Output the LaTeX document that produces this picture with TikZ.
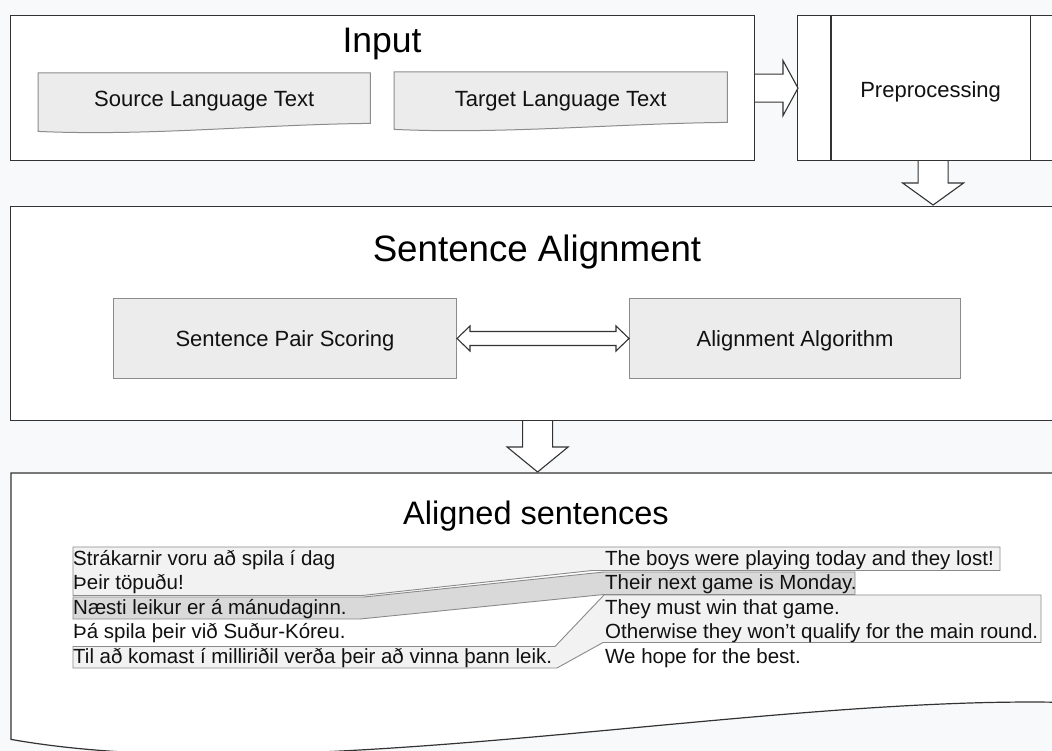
\documentclass[tikz,border=0pt]{standalone}
\usepackage{fontspec}
\setmainfont{Liberation Sans}
\usetikzlibrary{calc}
\definecolor{bg}{HTML}{F8F9FB}
\definecolor{frame}{HTML}{333333}
\definecolor{boxfill}{HTML}{ECECEC}
\definecolor{boxline}{HTML}{8C8C8C}
\definecolor{hlight}{HTML}{F2F2F2}
\definecolor{hdark}{HTML}{D9D9D9}
\definecolor{hline}{HTML}{8A8A8A}
\definecolor{ink}{HTML}{111111}
\begin{document}
\begin{tikzpicture}[x=1pt,y=-1pt,
  panel/.style={draw=frame, line width=1.2pt, fill=white, inner sep=0pt},
  shapebox/.style={inner sep=0pt},
  greybox/.style={draw=boxline, line width=1pt, fill=boxfill},
  blockarrow/.style={draw=frame, fill=white, line width=1.1pt, line join=miter},
  hl/.style={draw=hline, line width=0.9pt},
  ttl/.style={font=\fontsize{35.5}{42}\selectfont, text=black, inner sep=0pt, anchor=base},
  lbl/.style={font=\fontsize{22}{26}\selectfont, text=ink, inner sep=0pt, anchor=base},
  sent/.style={font=\fontsize{20.5}{24}\selectfont, text=ink, inner sep=0pt, anchor=base west}]

\useasboundingbox (0,0) rectangle (1052,751);
\fill[bg] (0,0) rectangle (1052,751);
\clip (0,0) rectangle (1052,751);

% ---------------- Input panel ----------------
\node[panel, minimum width=744, minimum height=145, anchor=north west] (input) at (10,15) {};
\node[ttl] (inputT) at (382,53) {Input};

\node[shapebox, minimum width=332, minimum height=50, anchor=north west] (src) at (38,73) {};
\draw[greybox] (src.north west) -- (src.north east) -- (src.south east)
  .. controls +(-110,1) and +(110,5) .. ($(src.south west)+(0,8)$) -- cycle;
\node[lbl] (srcT) at ($(src.center)+(0,8.5)$) {Source Language Text};

\node[shapebox, minimum width=333, minimum height=50, anchor=north west] (tgt) at (394,72) {};
\draw[greybox] (tgt.north west) -- (tgt.north east) -- (tgt.south east)
  .. controls +(-110,1) and +(110,5) .. ($(tgt.south west)+(0,7)$) -- cycle;
\node[lbl] (tgtT) at ($(tgt.center)+(0,9)$) {Target Language Text};

% ---------------- Preprocessing ----------------
\node[panel, minimum width=266, minimum height=145, anchor=north west] (prep) at (797,15) {};
\draw[frame, line width=1.2pt] ($(prep.north west)+(34,0)$) -- ($(prep.south west)+(34,0)$);
\draw[frame, line width=1.2pt] ($(prep.north east)+(-34,0)$) -- ($(prep.south east)+(-34,0)$);
\node[lbl] (prepT) at ($(prep.center)+(0,9)$) {Preprocessing};

% Input -> Preprocessing
\draw[blockarrow] ($(input.east)+(0,-14)$) -- ($(prep.west)+(-14,-14)$)
  -- ($(prep.west)+(-14,-27.5)$) -- ($(prep.west)+(1,0)$) -- ($(prep.west)+(-14,27.5)$)
  -- ($(prep.west)+(-14,14)$) -- ($(input.east)+(0,14)$);

% ---------------- Sentence Alignment panel ----------------
\node[panel, minimum width=1054, minimum height=214, anchor=north west] (sa) at (10,206) {};
\node[ttl, font=\fontsize{36.7}{44}\selectfont] (saT) at (537,262) {Sentence Alignment};

\node[greybox, minimum width=343, minimum height=80, anchor=north west] (sps) at (113,298) {};
\node[lbl] (spsT) at ($(sps.center)+(0,7.8)$) {Sentence Pair Scoring};
\node[greybox, minimum width=331, minimum height=80, anchor=north west] (algo) at (629,298) {};
\node[lbl] (algoT) at ($(algo.center)+(0,7.8)$) {Alignment Algorithm};

% Preprocessing -> Sentence Alignment
\coordinate (pb) at ($(prep.south)+(2.5,0)$);
\coordinate (sat) at (pb |- sa.north);
\draw[blockarrow] ($(pb)+(-15,0)$) -- ($(sat)+(-15,-23)$) -- ($(sat)+(-30.5,-23)$)
  -- ($(sat)+(0,-1)$) -- ($(sat)+(30.5,-23)$) -- ($(sat)+(15,-23)$) -- ($(pb)+(15,0)$);

% Scoring <-> Algorithm
\draw[blockarrow] (sps.east) -- ($(sps.east)+(13,-12.5)$) -- ($(sps.east)+(13,-7)$)
  -- ($(algo.west)+(-13,-7)$) -- ($(algo.west)+(-13,-12.5)$) -- (algo.west)
  -- ($(algo.west)+(-13,12.5)$) -- ($(algo.west)+(-13,7)$) -- ($(sps.east)+(13,7)$)
  -- ($(sps.east)+(13,12.5)$) -- cycle;

% ---------------- Aligned sentences panel ----------------
\node[shapebox, minimum width=1053, minimum height=229, anchor=north west] (al) at (11,473) {};
\draw[frame, line width=1.2pt, fill=white] (al.north west) -- (al.north east) -- (al.south east)
  .. controls +(-314,-7) and +(289,51) .. ($(al.south west)+(0,37)$) -- cycle;
\node[ttl, font=\fontsize{32.5}{40}\selectfont] (alT) at (536,524) {Aligned sentences};

% Sentence Alignment -> Aligned sentences
\coordinate (sab) at (sa.south);
\coordinate (alt) at (sab |- al.north);
\draw[blockarrow] ($(sab)+(-15,0)$) -- ($(alt)+(-15,-26)$) -- ($(alt)+(-30.5,-26)$)
  -- ($(alt)+(0,-1)$) -- ($(alt)+(30.5,-26)$) -- ($(alt)+(15,-26)$) -- ($(sab)+(15,0)$);

% alignment highlights
\draw[hl, fill=hlight] (73,547) -- (1000,547) -- (1000,570.5) -- (592,570.5)
  -- (362,595.5) -- (73,595.5) -- cycle;
\draw[hl, fill=hdark] (73,597) -- (364,597) -- (604,572) -- (855,572) -- (855,594.5)
  -- (604,594.5) -- (360,619) -- (73,619) -- cycle;
\draw[hl, fill=hlight] (73,646.5) -- (555,646.5) -- (604,595) -- (1041,595) -- (1041,642.5)
  -- (603,642.5) -- (557,668) -- (73,668) -- cycle;

% source sentences
\node[sent] (l1) at (73,565) {Strákarnir voru að spila í dag};
\node[sent] (l2) at (73,589.5) {Þeir töpuðu!};
\node[sent] (l3) at (73,614) {Næsti leikur er á mánudaginn.};
\node[sent] (l4) at (73,638.5) {Þá spila þeir við Suður-Kóreu.};
\node[sent] (l5) at (73,663) {Til að komast í milliriðil verða þeir að vinna þann leik.};

% target sentences
\node[sent] (r1) at (605,565) {The boys were playing today and they lost!};
\node[sent] (r2) at (605,589.5) {Their next game is Monday.};
\node[sent] (r3) at (605,614) {They must win that game.};
\node[sent] (r4) at (605,638.5) {Otherwise they won’t qualify for the main round.};
\node[sent] (r5) at (605,663) {We hope for the best.};

\end{tikzpicture}
\end{document}
